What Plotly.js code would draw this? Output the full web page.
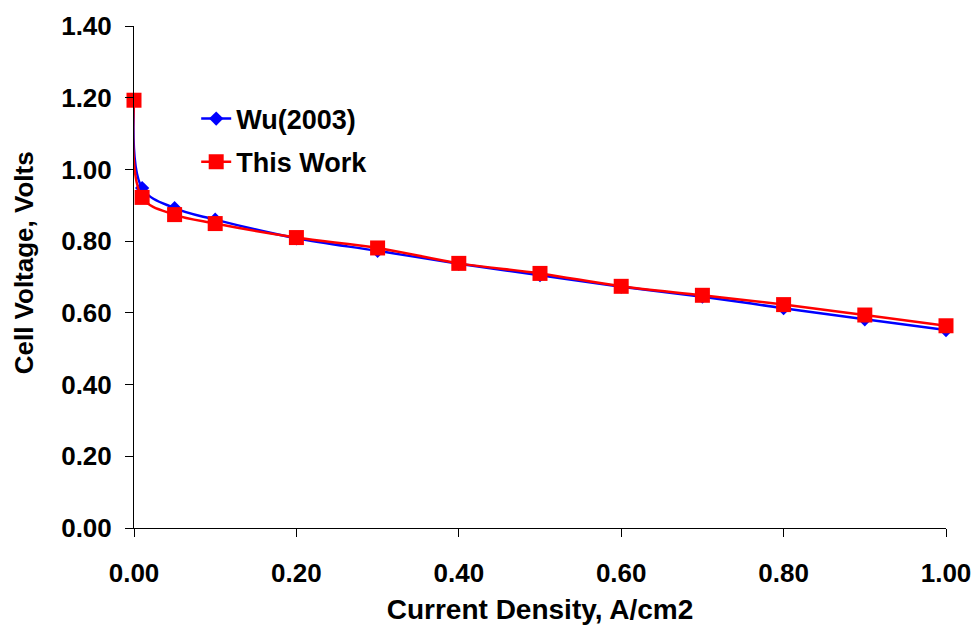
<!DOCTYPE html>
<html>
<head>
<meta charset="utf-8">
<script src="https://cdn.plot.ly/plotly-3.0.1.min.js"></script>
<style>html,body{margin:0;padding:0;background:#fff;}#chart{width:977px;height:626px;}</style>
</head>
<body>
<div id="chart"></div>
<script>
// Data
const currentDensity = [0, 0.01, 0.05, 0.10, 0.20, 0.30, 0.40, 0.50, 0.60, 0.70, 0.80, 0.90, 1.00];
const wu2003 = [1.193, 0.948, 0.892, 0.860, 0.808, 0.773, 0.737, 0.705, 0.673, 0.645, 0.613, 0.582, 0.552];
const thisWork = [1.193, 0.922, 0.874, 0.849, 0.810, 0.781, 0.738, 0.710, 0.674, 0.649, 0.623, 0.594, 0.564];
const seriesNames = ["Wu(2003)", "This Work"];
const xTickVals = [0, 0.2, 0.4, 0.6, 0.8, 1.0];
const yTickVals = [0, 0.2, 0.4, 0.6, 0.8, 1.0, 1.2, 1.4];
const xTitle = "Current Density, A/cm2";
const yTitle = "Cell Voltage, Volts";

const FONT = "Liberation Sans, Arial, sans-serif";

const traces = [
  {
    x: currentDensity, y: wu2003, name: seriesNames[0], legendgroup: "a",
    type: "scatter", mode: "lines+markers", cliponaxis: false,
    line: {color: "#0000FF", width: 2.5, shape: "spline", smoothing: 1},
    marker: {symbol: "diamond", size: 11, color: "#0000FF"}
  },
  {
    x: currentDensity, y: thisWork, name: seriesNames[1], legendgroup: "b",
    type: "scatter", mode: "lines+markers", cliponaxis: false,
    line: {color: "#FF0000", width: 2.5, shape: "spline", smoothing: 1},
    marker: {symbol: "square", size: 15, color: "#FF0000"}
  }
];

const layout = {
  width: 977, height: 626,
  margin: {l: 134, r: 31, t: 26, b: 98},
  paper_bgcolor: "#fff", plot_bgcolor: "#fff",
  font: {family: FONT, size: 26, color: "#000", weight: "bold"},
  showlegend: true,
  legend: {
    x: 0.0766, y: 0.8635, xanchor: "left", yanchor: "top",
    bgcolor: "rgba(0,0,0,0)", borderwidth: 0,
    font: {family: FONT, size: 27, color: "#000", weight: "bold"},
    tracegroupgap: 5
  },
  xaxis: {
    range: [0, 1.0], tickvals: xTickVals, tickformat: ".2f",
    showgrid: false, zeroline: false, showline: true, linecolor: "#000", linewidth: 1,
    ticks: "outside", ticklen: 8, tickcolor: "#000",
    tickfont: {family: FONT, size: 26, color: "#000", weight: "bold"},
    ticklabelstandoff: 14,
    title: {text: xTitle, font: {family: FONT, size: 28, color: "#000", weight: "bold"}, standoff: 12}
  },
  yaxis: {
    range: [0, 1.4], tickvals: yTickVals, tickformat: ".2f",
    showgrid: false, zeroline: false, showline: true, linecolor: "#000", linewidth: 1,
    ticks: "outside", ticklen: 8, tickcolor: "#000",
    tickfont: {family: FONT, size: 26, color: "#000", weight: "bold"},
    ticklabelstandoff: 8
  },
  annotations: [{
    text: yTitle, textangle: -90, showarrow: false,
    xref: "paper", yref: "paper", x: -0.135, y: 0.528,
    xanchor: "center", yanchor: "middle",
    font: {family: FONT, size: 26, color: "#000", weight: "bold"}
  }]
};

Plotly.newPlot("chart", traces, layout, {displayModeBar: false, staticPlot: true});
</script>
</body>
</html>
